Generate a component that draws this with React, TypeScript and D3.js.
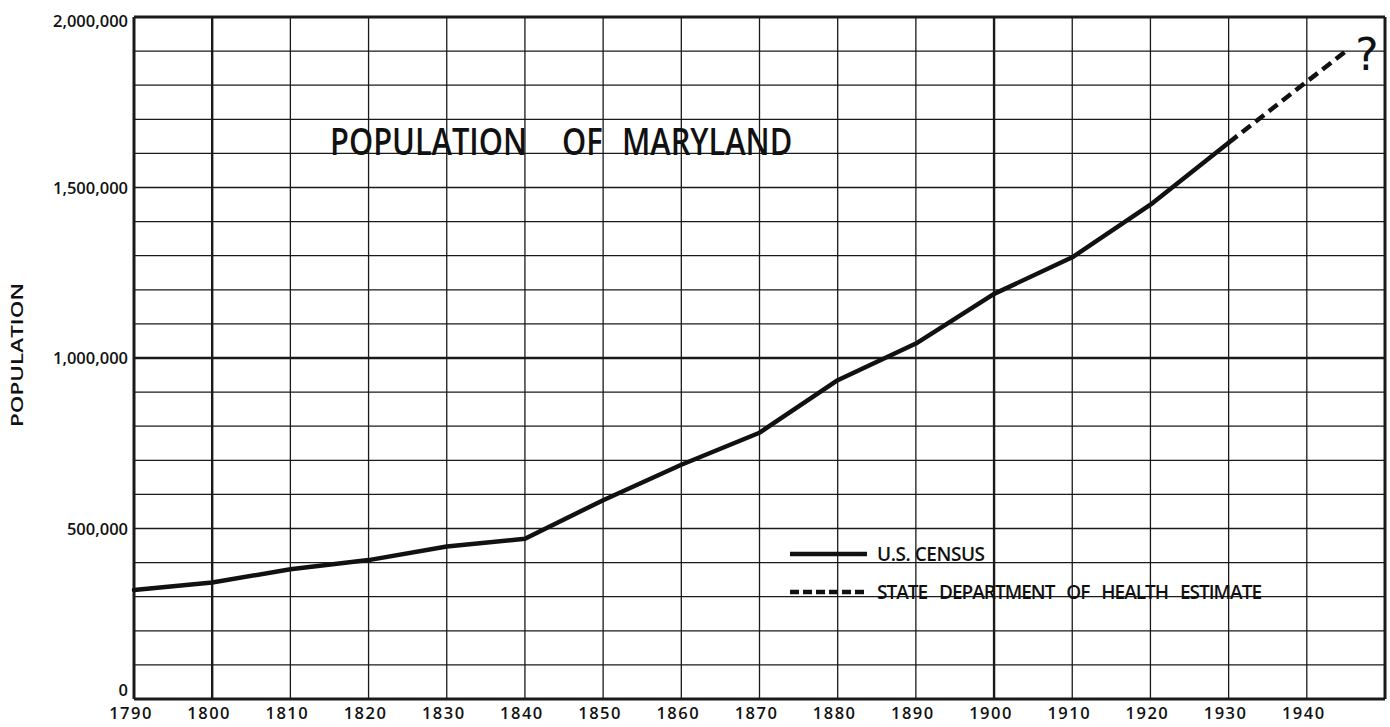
import React from "react";
import * as d3 from "d3";

const censusYears = [1790, 1800, 1810, 1820, 1830, 1840, 1850, 1860, 1870, 1880, 1890, 1900, 1910, 1920, 1930];
const censusValues = [319728, 341548, 380546, 407350, 447040, 470019, 583034, 687049, 780894, 934943, 1042390, 1188044, 1295346, 1449661, 1631526];
const estimateYears = [1930, 1945];
const estimateValues = [1631526, 1900000];
const xTickYears = [1790, 1800, 1810, 1820, 1830, 1840, 1850, 1860, 1870, 1880, 1890, 1900, 1910, 1920, 1930, 1940];
const yTickValues = [0, 500000, 1000000, 1500000, 2000000];
const yTickLabels = ["0", "500,000", "1,000,000", "1,500,000", "2,000,000"];
const titleWords = ["POPULATION", "OF", "MARYLAND"];
const yTitle = "POPULATION";
const legendLabels = ["U.S. CENSUS", "STATE DEPARTMENT OF HEALTH ESTIMATE"];

const W = 1390;
const H = 727;
const FONT = "'Open Sans', 'DejaVu Sans', sans-serif";

// title word start positions
const titleX = [330, 562, 622];

export default function App() {
  const x = d3.scaleLinear().domain([1790, 1950]).range([134, 1385]);
  const y = d3.scaleLinear().domain([0, 2000000]).range([699, 17]);

  const vGrid = d3.range(1790, 1951, 10);
  const hGrid = d3.range(0, 2000001, 100000);

  const line = d3
    .line<[number, number]>()
    .x((d) => x(d[0]))
    .y((d) => y(d[1]))
    .curve(d3.curveLinear);

  const census = censusYears.map((yr, i) => [yr, censusValues[i]] as [number, number]);
  const estimate = estimateYears.map((yr, i) => [yr, estimateValues[i]] as [number, number]);

  const [x0, x1] = x.range();
  const [yb, yt] = y.range();

  return (
    <svg
      width={W}
      height={H}
      style={{ position: "absolute", left: 0, top: 0, background: "#fff" }}
      fontFamily={FONT}
    >
      <rect x={0} y={0} width={W} height={H} fill="#fff" />
      {/* grid */}
      {hGrid.map((v) => {
        const heavy = v === 1000000;
        const edge = v === 0 || v === 2000000;
        return (
          <line
            key={"h" + v}
            x1={x0}
            x2={x1}
            y1={y(v)}
            y2={y(v)}
            stroke="#1a1a1a"
            strokeWidth={edge ? 3 : heavy ? 2.6 : 1.3}
          />
        );
      })}
      {vGrid.map((yr) => {
        const heavy = yr === 1800 || yr === 1900;
        const edge = yr === 1790 || yr === 1950;
        return (
          <line
            key={"v" + yr}
            x1={x(yr)}
            x2={x(yr)}
            y1={yt}
            y2={yb}
            stroke="#1a1a1a"
            strokeWidth={edge ? 3 : heavy ? 2.4 : 1.3}
          />
        );
      })}

      {/* series */}
      <path d={line(census) || ""} fill="none" stroke="#111" strokeWidth={4.5} strokeLinejoin="round" strokeLinecap="round" />
      <path d={line(estimate) || ""} fill="none" stroke="#111" strokeWidth={4.5} strokeDasharray="11 6" />
      <text x={x(1947.7)} y={y(1845000)} fontSize={44} fontFamily="'DejaVu Sans', sans-serif" textAnchor="middle" fill="#111">
        ?
      </text>

      {/* title */}
      {titleWords.map((w, i) => (
        <g key={"t" + i} transform={`translate(${titleX[i]},155) scale(0.81,1)`}>
          <text x={0} y={0} fontSize={38} fontWeight={600} fill="#111">
            {w}
          </text>
        </g>
      ))}

      {/* y axis labels */}
      {yTickValues.map((v, i) => {
        let dy = 6;
        if (v === 0) dy = -3;
        if (v === 2000000) dy = 10;
        return (
          <text key={"yl" + v} x={128} y={y(v) + dy} fontSize={16.5} fontWeight={600} textAnchor="end" fill="#111">
            {yTickLabels[i]}
          </text>
        );
      })}
      <text
        transform={`translate(23, ${355}) rotate(-90)`}
        fontSize={17}
        fontWeight={600}
        textAnchor="middle"
        textLength={144}
        lengthAdjust="spacingAndGlyphs"
        fill="#111"
      >
        {yTitle}
      </text>

      {/* x axis labels */}
      {xTickYears.map((yr) => (
        <text key={"xl" + yr} x={x(yr) - 3} y={719} fontSize={16.5} fontWeight={600} letterSpacing={1.5} textAnchor="middle" fill="#111">
          {yr}
        </text>
      ))}

      {/* legend */}
      <line x1={790} x2={867} y1={554} y2={554} stroke="#111" strokeWidth={4.5} />
      <text x={877} y={561} fontSize={19} fontWeight={600} textLength={108} lengthAdjust="spacing" fill="#111">
        {legendLabels[0]}
      </text>
      <line x1={790} x2={867} y1={592} y2={592} stroke="#111" strokeWidth={4.5} strokeDasharray="9 4" />
      <text x={877} y={599} fontSize={19} fontWeight={600} wordSpacing={8} textLength={385} lengthAdjust="spacing" fill="#111">
        {legendLabels[1]}
      </text>
    </svg>
  );
}
